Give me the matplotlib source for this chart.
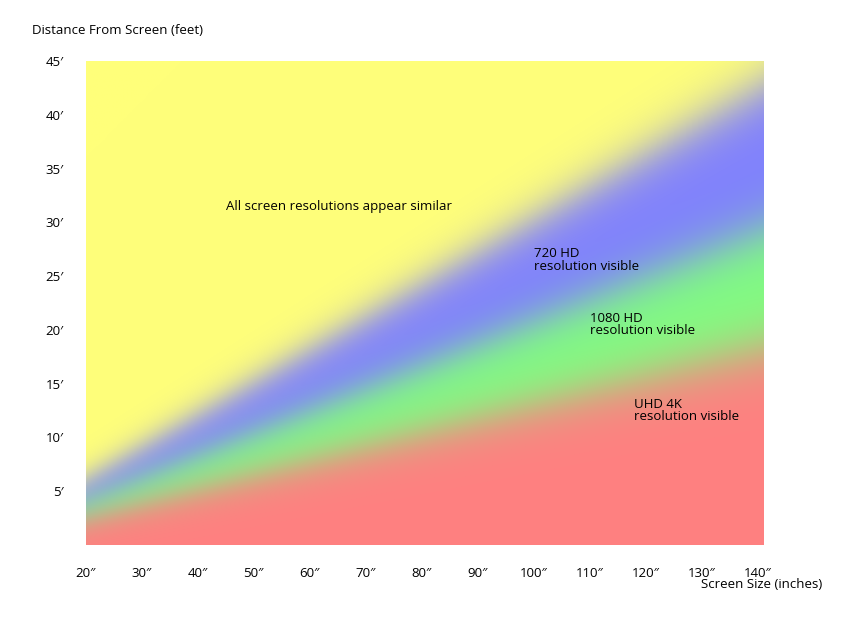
import numpy as np
import matplotlib
matplotlib.use("Agg")
from matplotlib import pyplot as plt

plt.rcParams['font.family'] = ['Open Sans', 'DejaVu Sans']

# screen size ticks (inches) and distance ticks (feet)
x_ticks = [20, 30, 40, 50, 60, 70, 80, 90, 100, 110, 120, 130, 140]
y_ticks = [5, 10, 15, 20, 25, 30, 35, 40, 45]

# boundary slopes: feet of distance per inch of screen size
# (red|green, green|blue, blue|yellow)
boundary_slopes = [0.130, 0.207, 0.303]
zone_colors = [(255, 128, 128), (128, 255, 128), (128, 128, 255), (255, 255, 122)]
zone_labels = ["UHD 4K\nresolution visible", "1080 HD\nresolution visible",
               "720 HD\nresolution visible", "All screen resolutions appear similar"]
label_pos = [(118, 12.5), (110, 20.5), (100, 26.5), (45, 31.5)]

xs = np.linspace(20, 141, 600)
ys = np.linspace(0, 45, 450)
X, Y = np.meshgrid(xs, ys)

cols = np.array(zone_colors, dtype=float) / 255.0
img = np.zeros(X.shape + (3,))
img[:] = cols[0]
for i, k in enumerate(boundary_slopes):
    w = 0.7 + 0.006 * X
    t = 1 / (1 + np.exp(-(Y - k * X) / w))
    img = img * (1 - t[..., None]) + cols[i + 1] * t[..., None]

fig = plt.figure(figsize=(8.55, 6.19), dpi=100)
ax = fig.add_axes([86 / 855, 1 - 545 / 619, 677 / 855, 484 / 619])
ax.imshow(img, origin='lower', extent=[20, 141, 0, 45], aspect='auto',
          interpolation='bilinear')
ax.set_xlim(20, 141)
ax.set_ylim(0, 45)
for s in ax.spines.values():
    s.set_visible(False)
ax.tick_params(length=0, labelsize=9.5)
ax.set_xticks(x_ticks)
ax.set_xticklabels([f"{v}\u2033" for v in x_ticks])
ax.tick_params(axis='x', pad=16)
ax.set_yticks(y_ticks)
ax.set_yticklabels([f"{v}\u2032" for v in y_ticks])
ax.tick_params(axis='y', pad=16)

for (lx, ly), txt in zip(label_pos, zone_labels):
    ax.text(lx, ly, txt, fontsize=9.5, va='center', linespacing=0.95)

fig.text(32 / 855, 1 - 31 / 619, "Distance From Screen (feet)", fontsize=9.5, va='center')
fig.text(822 / 855, 1 - 585 / 619, "Screen Size (inches)", fontsize=9.5, va='center', ha='right')

fig.savefig("out.png", dpi=100)
